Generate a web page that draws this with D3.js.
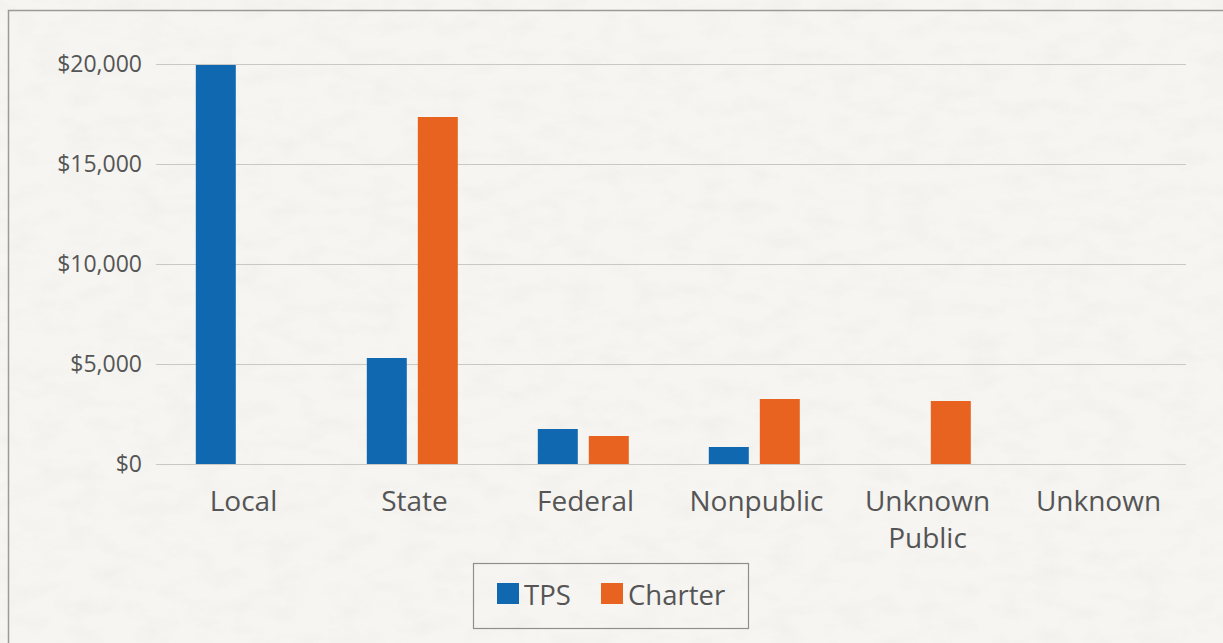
<!DOCTYPE html>
<html>
<head>
<meta charset="utf-8">
<script src="https://cdn.jsdelivr.net/npm/d3@7"></script>
<style>
  body { margin: 0; background: #f4f3ef; }
  svg { display: block; }
</style>
</head>
<body>
<div id="chart"></div>
<script>
var categories = ["Local", "State", "Federal", "Nonpublic", "Unknown Public", "Unknown"];
var seriesNames = ["TPS", "Charter"];
var tpsValues = [19950, 5300, 1750, 850, 0, 0];
var charterValues = [0, 17350, 1400, 3250, 3150, 0];
var yTicks = [0, 5000, 10000, 15000, 20000];
var color = ["#1068b0", "#e8631f"];

var width = 1223, height = 643;
var margin = {left: 156, right: 37, top: 64, bottom: 179};

var svg = d3.select("#chart")
  .append("svg")
  .attr("width", width)
  .attr("height", height);

// paper texture
var defs = svg.append("defs");
var filt = defs.append("filter").attr("id", "paper").attr("x", 0).attr("y", 0).attr("width", "100%").attr("height", "100%");
filt.append("feTurbulence")
  .attr("type", "fractalNoise")
  .attr("baseFrequency", "0.03 0.06")
  .attr("numOctaves", 4)
  .attr("seed", 7);
filt.append("feColorMatrix")
  .attr("values", "0 0 0 0 0.6  0 0 0 0 0.59  0 0 0 0 0.56  0 0 0 -1.2 0.7");
filt.append("feComposite").attr("in2", "SourceGraphic").attr("operator", "in");

svg.append("rect").attr("width", width).attr("height", height).attr("fill", "#f6f5f2");
svg.append("rect").attr("width", width).attr("height", height).attr("fill", "#f6f5f2").attr("filter", "url(#paper)").attr("opacity", 0.18);

// outer frame
svg.append("rect")
  .attr("x", 8.5).attr("y", 10.5)
  .attr("width", width + 20).attr("height", height + 20)
  .attr("fill", "none")
  .attr("stroke", "#9a9a96")
  .attr("stroke-width", 1.5);

var x0 = d3.scaleBand()
  .domain(categories)
  .range([157, 1183])
  .paddingInner(0)
  .paddingOuter(0);

var x1 = d3.scaleBand()
  .domain(seriesNames)
  .range([0, 91])
  .paddingInner(0.216);

var y = d3.scaleLinear()
  .domain([0, 20000])
  .range([height - margin.bottom, margin.top]);

// grid lines
svg.append("g")
  .selectAll("line")
  .data(yTicks)
  .enter()
  .append("line")
  .attr("x1", margin.left)
  .attr("x2", width - margin.right)
  .attr("y1", function(d) { return Math.round(y(d)) + 0.5; })
  .attr("y2", function(d) { return Math.round(y(d)) + 0.5; })
  .attr("stroke", "#c9c8c4")
  .attr("stroke-width", 1.2);

// y axis labels
svg.append("g")
  .selectAll("text")
  .data(yTicks)
  .enter()
  .append("text")
  .attr("x", 142)
  .attr("y", function(d) { return y(d); })
  .attr("dy", "0.35em")
  .style("text-anchor", "end")
  .style("font-family", "'Open Sans', sans-serif")
  .style("font-size", "23px")
  .style("fill", "#555")
  .text(function(d) { return "$" + d3.format(",")(d); });

// bars
var series = [tpsValues, charterValues];
var groups = svg.append("g")
  .selectAll("g")
  .data(categories)
  .enter()
  .append("g")
  .attr("transform", function(d) { return "translate(" + (x0(d) + x0.bandwidth() / 2 - 46.7) + ",0)"; });

groups.each(function(cat, ci) {
  var g = d3.select(this);
  seriesNames.forEach(function(s, si) {
    var v = series[si][ci];
    if (v <= 0) return;
    g.append("rect")
      .attr("x", x1(s))
      .attr("y", y(v))
      .attr("width", x1.bandwidth())
      .attr("height", y(0) - y(v))
      .attr("fill", color[si]);
  });
});

// category labels
svg.append("g")
  .selectAll("text")
  .data(categories)
  .enter()
  .append("text")
  .attr("transform", function(d) { return "translate(" + (x0(d) + x0.bandwidth() / 2 + 1) + "," + 511 + ")"; })
  .style("text-anchor", "middle")
  .style("font-family", "'Open Sans', sans-serif")
  .style("font-size", "28px")
  .style("fill", "#555")
  .each(function(d) {
    var words = d.split(" ");
    var t = d3.select(this);
    words.forEach(function(w, i) {
      t.append("tspan").attr("x", 0).attr("dy", i === 0 ? 0 : 37).text(w);
    });
  });

// legend
var legend = svg.append("g").attr("class", "legend");
legend.append("rect")
  .attr("x", 473.5).attr("y", 563.5)
  .attr("width", 275).attr("height", 65)
  .attr("fill", "none")
  .attr("stroke", "#8f8f8c")
  .attr("stroke-width", 1.2);

var legX = [497, 601];
seriesNames.forEach(function(s, i) {
  legend.append("rect")
    .attr("x", legX[i]).attr("y", 583)
    .attr("width", 22).attr("height", 21)
    .attr("fill", color[i]);
  legend.append("text")
    .attr("x", legX[i] + 27)
    .attr("y", 605)
    .style("font-family", "'Open Sans', sans-serif")
    .style("font-size", "27.5px")
    .style("fill", "#555")
    .text(s);
});
</script>
</body>
</html>
